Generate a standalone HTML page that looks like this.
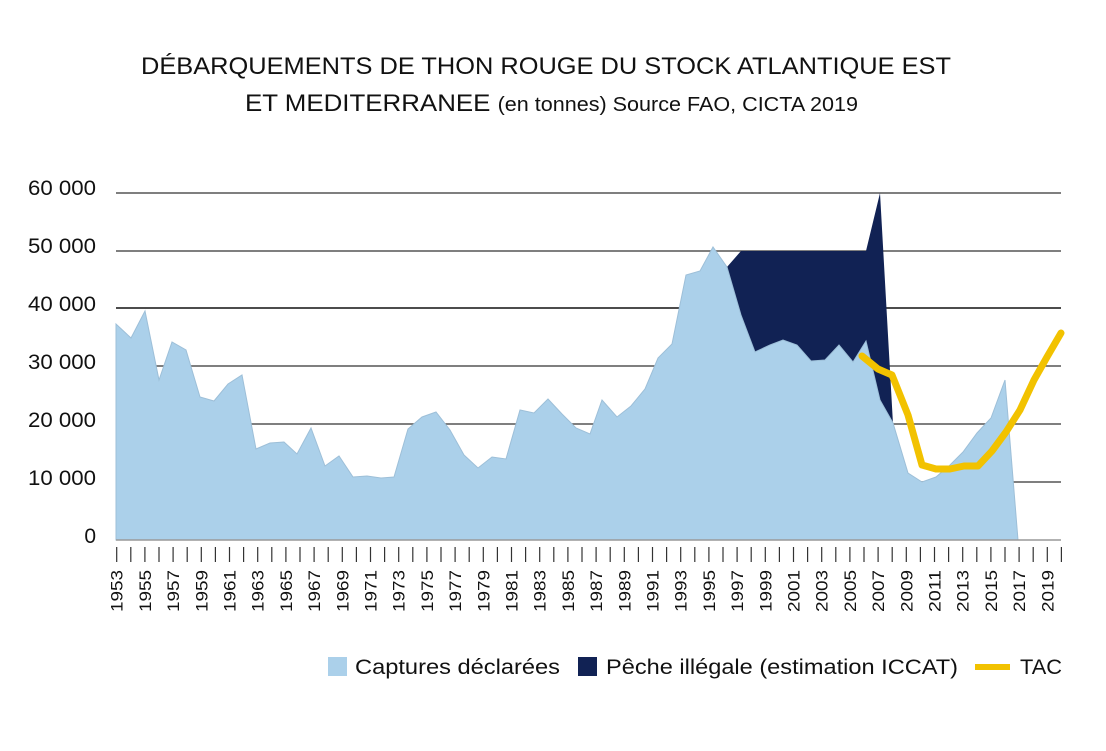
<!DOCTYPE html>
<html><head><meta charset="utf-8"><style>
body{margin:0;background:#fff}
svg{display:block}
text{font-family:"Liberation Sans",sans-serif;fill:#111}
</style></head><body>
<svg width="1106" height="751" viewBox="0 0 1106 751" xmlns="http://www.w3.org/2000/svg">
<text x="546" y="74" font-size="24" text-anchor="middle" textLength="810" lengthAdjust="spacingAndGlyphs">DÉBARQUEMENTS DE THON ROUGE DU STOCK ATLANTIQUE EST</text>
<text x="245" y="111" font-size="24" textLength="613" lengthAdjust="spacingAndGlyphs">ET MEDITERRANEE <tspan font-size="20">(en tonnes) Source FAO, CICTA 2019</tspan></text>
<g stroke="#555" stroke-width="1.5">
<line x1="116" y1="193" x2="1061" y2="193"/><line x1="116" y1="251" x2="1061" y2="251"/>
<line x1="116" y1="308" x2="1061" y2="308" stroke="#111"/><line x1="116" y1="366" x2="1061" y2="366"/>
<line x1="116" y1="424" x2="1061" y2="424"/><line x1="116" y1="482" x2="1061" y2="482"/>
</g>
<g font-size="21" text-anchor="end">
<text x="96" y="195" textLength="68" lengthAdjust="spacingAndGlyphs">60 000</text><text x="96" y="253" textLength="68" lengthAdjust="spacingAndGlyphs">50 000</text><text x="96" y="311" textLength="68" lengthAdjust="spacingAndGlyphs">40 000</text>
<text x="96" y="369" textLength="68" lengthAdjust="spacingAndGlyphs">30 000</text><text x="96" y="427" textLength="68" lengthAdjust="spacingAndGlyphs">20 000</text><text x="96" y="485" textLength="68" lengthAdjust="spacingAndGlyphs">10 000</text><text x="96" y="543">0</text>
</g>
<polygon fill="#112254" points="727,267 741,251 866,251 880,193 893,424 893,540 727,540"/>
<polygon fill="#abd0ea" stroke="#9dbfd8" stroke-width="1" points="116,540 116,324 131,338 145,311 159,380 172,342 186,350 200,397 214,401 228,384 242,375 256,449 270,443 284,442 297,454 311,428 325,466 339,456 353,477 367,476 381,478 394,477 408,429 422,417 436,412 450,430 464,455 478,468 492,457 506,459 520,410 534,413 548,399 562,414 576,428 590,434 602,400 617,417 631,406 645,389 658,358 672,344 686,275 700,271 713,247 727,267 741,315 755,352 770,345 783,340 797,345 811,361 825,360 839,345 853,362 866,341 880,400 893,423 908,473 922,482 936,477 950,465 963,452 977,433 991,418 1005,380 1018,540"/>
<line x1="116" y1="540" x2="1061" y2="540" stroke="#999" stroke-width="1.5"/>
<polyline fill="none" stroke="#f2c200" stroke-width="7" stroke-linecap="round" stroke-linejoin="round" points="862,356 878,369 892,375 908,415 922,465 936,469 950,469 964,466 978,466 992,451 1006,432 1020,410 1034,380 1047,357 1061,333"/>
<g id="ticks" stroke="#333" stroke-width="1.2"></g>
<g id="labels" font-size="17"></g>
<rect x="328" y="657" width="19" height="19" fill="#abd0ea"/>
<text x="355" y="674" font-size="21" textLength="205" lengthAdjust="spacingAndGlyphs">Captures déclarées</text>
<rect x="578" y="657" width="19" height="19" fill="#112254"/>
<text x="606" y="674" font-size="21" textLength="352" lengthAdjust="spacingAndGlyphs">Pêche illégale (estimation ICCAT)</text>
<line x1="975" y1="667" x2="1010" y2="667" stroke="#f2c200" stroke-width="6"/>
<text x="1020" y="674" font-size="21" textLength="42" lengthAdjust="spacingAndGlyphs">TAC</text>
<script>
var t=document.getElementById('ticks'),l=document.getElementById('labels'),ns='http://www.w3.org/2000/svg';
for(var i=0;i<=67;i++){var x=116.7+i*14.1;var ln=document.createElementNS(ns,'line');
ln.setAttribute('x1',x);ln.setAttribute('x2',x);ln.setAttribute('y1',547);ln.setAttribute('y2',562);t.appendChild(ln);
if(i%2==0){var tx=document.createElementNS(ns,'text');tx.setAttribute('transform','translate('+(x+6)+',612) rotate(-90)');
tx.setAttribute('textLength','42');tx.setAttribute('lengthAdjust','spacingAndGlyphs');tx.textContent=1953+i;l.appendChild(tx);}}
</script>
</svg>
</body></html>
